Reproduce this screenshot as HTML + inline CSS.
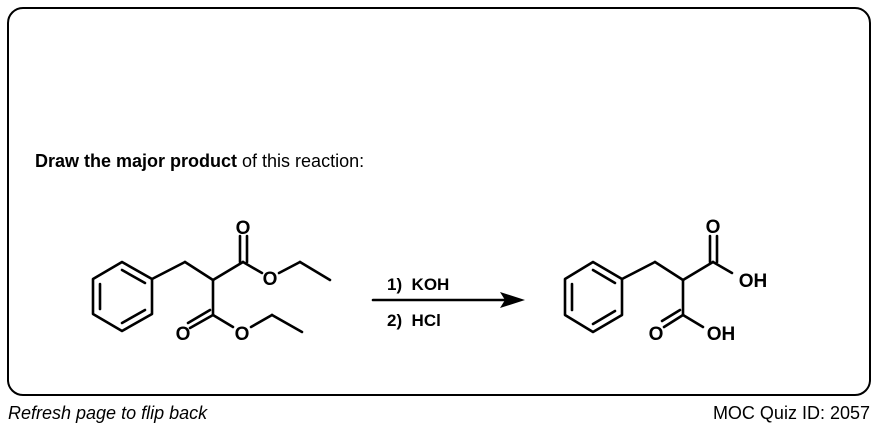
<!DOCTYPE html>
<html><head><meta charset="utf-8"><style>
html,body{margin:0;padding:0;background:#fff;width:878px;height:430px;overflow:hidden}
svg{display:block}
text{font-family:"Liberation Sans",Arial,sans-serif}
</style></head><body>
<svg width="878" height="430" viewBox="0 0 878 430">
<rect x="8" y="8" width="862" height="387" rx="15" ry="15" fill="#fff" stroke="#000" stroke-width="2"/>
<text x="35" y="167" font-size="18"><tspan font-weight="bold">Draw the major product</tspan> of this reaction:</text>
<text x="8" y="419" font-size="18" font-style="italic">Refresh page to flip back</text>
<text x="870" y="419" font-size="18" text-anchor="end">MOC Quiz ID: 2057</text>
<g stroke="#000" stroke-width="2.6" fill="none" stroke-linecap="round" stroke-linejoin="round">
<polygon points="122,262 152,279 152,314 122,331 93,314 93,279"/>
<line x1="100" y1="284" x2="100" y2="309"/>
<line x1="122" y1="323" x2="145" y2="310"/>
<line x1="122" y1="270" x2="145" y2="283"/>
<line x1="152" y1="279" x2="185" y2="262"/>
<line x1="185" y1="262" x2="213" y2="280"/>
<line x1="213" y1="280" x2="243" y2="262"/>
<line x1="240" y1="262" x2="240" y2="236"/>
<line x1="247" y1="262" x2="247" y2="236"/>
<line x1="243" y1="262" x2="262" y2="273"/>
<line x1="279" y1="273" x2="300" y2="262"/>
<line x1="300" y1="262" x2="330" y2="280"/>
<line x1="213" y1="280" x2="213" y2="315"/>
<line x1="213" y1="315" x2="190" y2="328"/>
<line x1="210" y1="310" x2="188" y2="323"/>
<line x1="213" y1="315" x2="233" y2="327"/>
<line x1="251" y1="327" x2="272" y2="315"/>
<line x1="272" y1="315" x2="302" y2="332"/>
<polygon points="593,262 622,279 622,315 593,332 565,315 565,279"/>
<line x1="572" y1="284" x2="572" y2="310"/>
<line x1="593" y1="324" x2="615" y2="311"/>
<line x1="593" y1="270" x2="615" y2="283"/>
<line x1="622" y1="279" x2="655" y2="262"/>
<line x1="655" y1="262" x2="683" y2="280"/>
<line x1="683" y1="280" x2="713" y2="262"/>
<line x1="710" y1="262" x2="710" y2="236"/>
<line x1="717" y1="262" x2="717" y2="236"/>
<line x1="713" y1="262" x2="732" y2="273"/>
<line x1="683" y1="280" x2="683" y2="315"/>
<line x1="683" y1="315" x2="664" y2="327"/>
<line x1="680" y1="310" x2="662" y2="321"/>
<line x1="683" y1="315" x2="703" y2="327"/>
<line x1="373" y1="300" x2="505" y2="300"/>
</g>
<polygon points="525,300 500,292 505,300 500,308" fill="#000"/>
<g font-size="19" font-weight="bold" text-anchor="middle">
<text x="243" y="234">O</text>
<text x="270" y="285">O</text>
<text x="183" y="340">O</text>
<text x="242" y="340">O</text>
<text x="713" y="233">O</text>
<text x="753" y="287">OH</text>
<text x="656" y="340">O</text>
<text x="721" y="340">OH</text>
</g>
<g font-size="17" font-weight="bold">
<text x="387" y="290">1)&#160;&#160;KOH</text>
<text x="387" y="326">2)&#160;&#160;HCl</text>
</g>
</svg>
</body></html>
